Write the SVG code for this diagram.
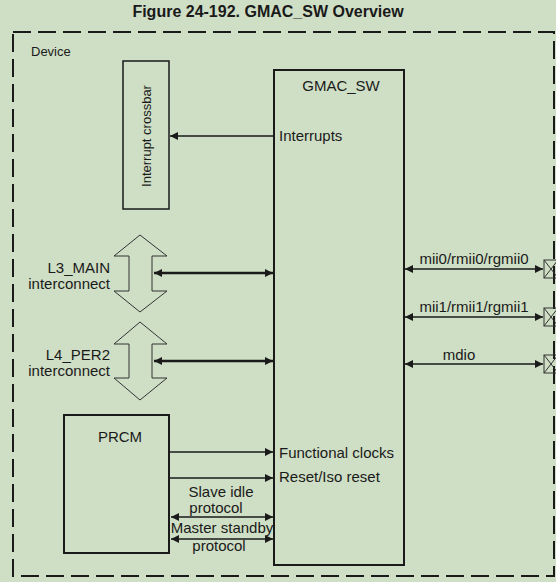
<svg xmlns="http://www.w3.org/2000/svg" width="556" height="582" viewBox="0 0 556 582">
<style>
text{font-family:"Liberation Sans",Arial,sans-serif;fill:#1a1a1a;font-size:15px}
.box{fill:none;stroke:#1a1a1a;stroke-width:2}
.ln{stroke:#1a1a1a;stroke-width:2;fill:none}
.big{fill:none;stroke:#333;stroke-width:1}
</style>
<defs>
<marker id="ahb" viewBox="0 0 10 10" refX="10" refY="5" markerWidth="8" markerHeight="8" orient="auto-start-reverse" markerUnits="userSpaceOnUse"><path d="M0,0 L10,5 L0,10 z" fill="#1a1a1a"/></marker>
</defs>
<rect width="556" height="582" fill="#cfdfc5"/>
<text x="268" y="17" text-anchor="middle" style="font-weight:bold;font-size:16px">Figure 24-192. GMAC_SW Overview</text>
<g id="device">
<rect x="13" y="32" width="541" height="544" fill="none" stroke="#1a1a1a" stroke-width="2" stroke-dasharray="18 7"/>
<text x="31" y="56" style="font-size:13px">Device</text>
</g>
<g id="gmac_sw">
<rect class="box" x="274" y="70" width="130" height="495"/>
<text x="341" y="91" text-anchor="middle">GMAC_SW</text>
<text x="279" y="141">Interrupts</text>
<text x="279" y="458">Functional clocks</text>
<text x="279" y="482">Reset/Iso reset</text>
</g>
<g id="interrupt_crossbar">
<rect x="123" y="61" width="46" height="148" fill="none" stroke="#1a1a1a" stroke-width="1.5"/>
<text transform="translate(151,136) rotate(-90)" text-anchor="middle" style="font-size:13px">Interrupt crossbar</text>
</g>
<g id="l3_main">
<path class="big" d="M140,235 L167,256 L152,256 L152,291 L167,291 L140,312 L114,291 L129,291 L129,256 L114,256 Z"/>
<text x="110" y="273" text-anchor="end">L3_MAIN</text>
<text x="110" y="289" text-anchor="end">interconnect</text>
</g>
<g id="l4_per2">
<path class="big" d="M140,322 L167,344 L152,344 L152,378 L167,378 L140,400 L114,378 L129,378 L129,344 L114,344 Z"/>
<text x="110" y="360" text-anchor="end">L4_PER2</text>
<text x="110" y="376" text-anchor="end">interconnect</text>
</g>
<g id="prcm">
<rect class="box" x="64" y="415" width="105" height="138"/>
<text x="120" y="442" text-anchor="middle">PRCM</text>
<text x="221" y="497" text-anchor="middle">Slave idle</text>
<text x="216" y="513" text-anchor="middle">protocol</text>
<text x="222" y="533" text-anchor="middle">Master standby</text>
<text x="219" y="551" text-anchor="middle">protocol</text>
</g>
<g id="ports">
<g fill="none" stroke="#333" stroke-width="1">
<rect x="544" y="260" width="14" height="18"/><path d="M544,260 L558,278 M558,260 L544,278"/>
<rect x="544" y="308" width="14" height="18"/><path d="M544,308 L558,326 M558,308 L544,326"/>
<rect x="544" y="355" width="14" height="18"/><path d="M544,355 L558,373 M558,355 L544,373"/>
</g>
<text x="474" y="264" text-anchor="middle">mii0/rmii0/rgmii0</text>
<text x="474" y="312" text-anchor="middle">mii1/rmii1/rgmii1</text>
<text x="459" y="360" text-anchor="middle">mdio</text>
</g>
<g id="connectors">
<line class="ln" x1="273" y1="136" x2="170" y2="136" style="stroke-width:1.5" marker-end="url(#ahb)"/>
<line class="ln" x1="154" y1="273" x2="273" y2="273" style="stroke-width:2.5" marker-start="url(#ahb)" marker-end="url(#ahb)"/>
<line class="ln" x1="154" y1="361" x2="273" y2="361" style="stroke-width:2.5" marker-start="url(#ahb)" marker-end="url(#ahb)"/>
<line class="ln" x1="405" y1="269" x2="543" y2="269" style="stroke-width:1.5" marker-start="url(#ahb)" marker-end="url(#ahb)"/>
<line class="ln" x1="405" y1="317" x2="543" y2="317" style="stroke-width:1.5" marker-start="url(#ahb)" marker-end="url(#ahb)"/>
<line class="ln" x1="405" y1="364" x2="543" y2="364" style="stroke-width:1.5" marker-start="url(#ahb)" marker-end="url(#ahb)"/>
<line class="ln" x1="170" y1="452" x2="273" y2="452" style="stroke-width:1.5" marker-end="url(#ahb)"/>
<line class="ln" x1="170" y1="478" x2="273" y2="478" style="stroke-width:1.5" marker-end="url(#ahb)"/>
<line class="ln" x1="171" y1="517" x2="273" y2="517" style="stroke-width:1.5" marker-start="url(#ahb)" marker-end="url(#ahb)"/>
<line class="ln" x1="171" y1="539" x2="273" y2="539" style="stroke-width:1.5" marker-start="url(#ahb)" marker-end="url(#ahb)"/>
</g>
</svg>
